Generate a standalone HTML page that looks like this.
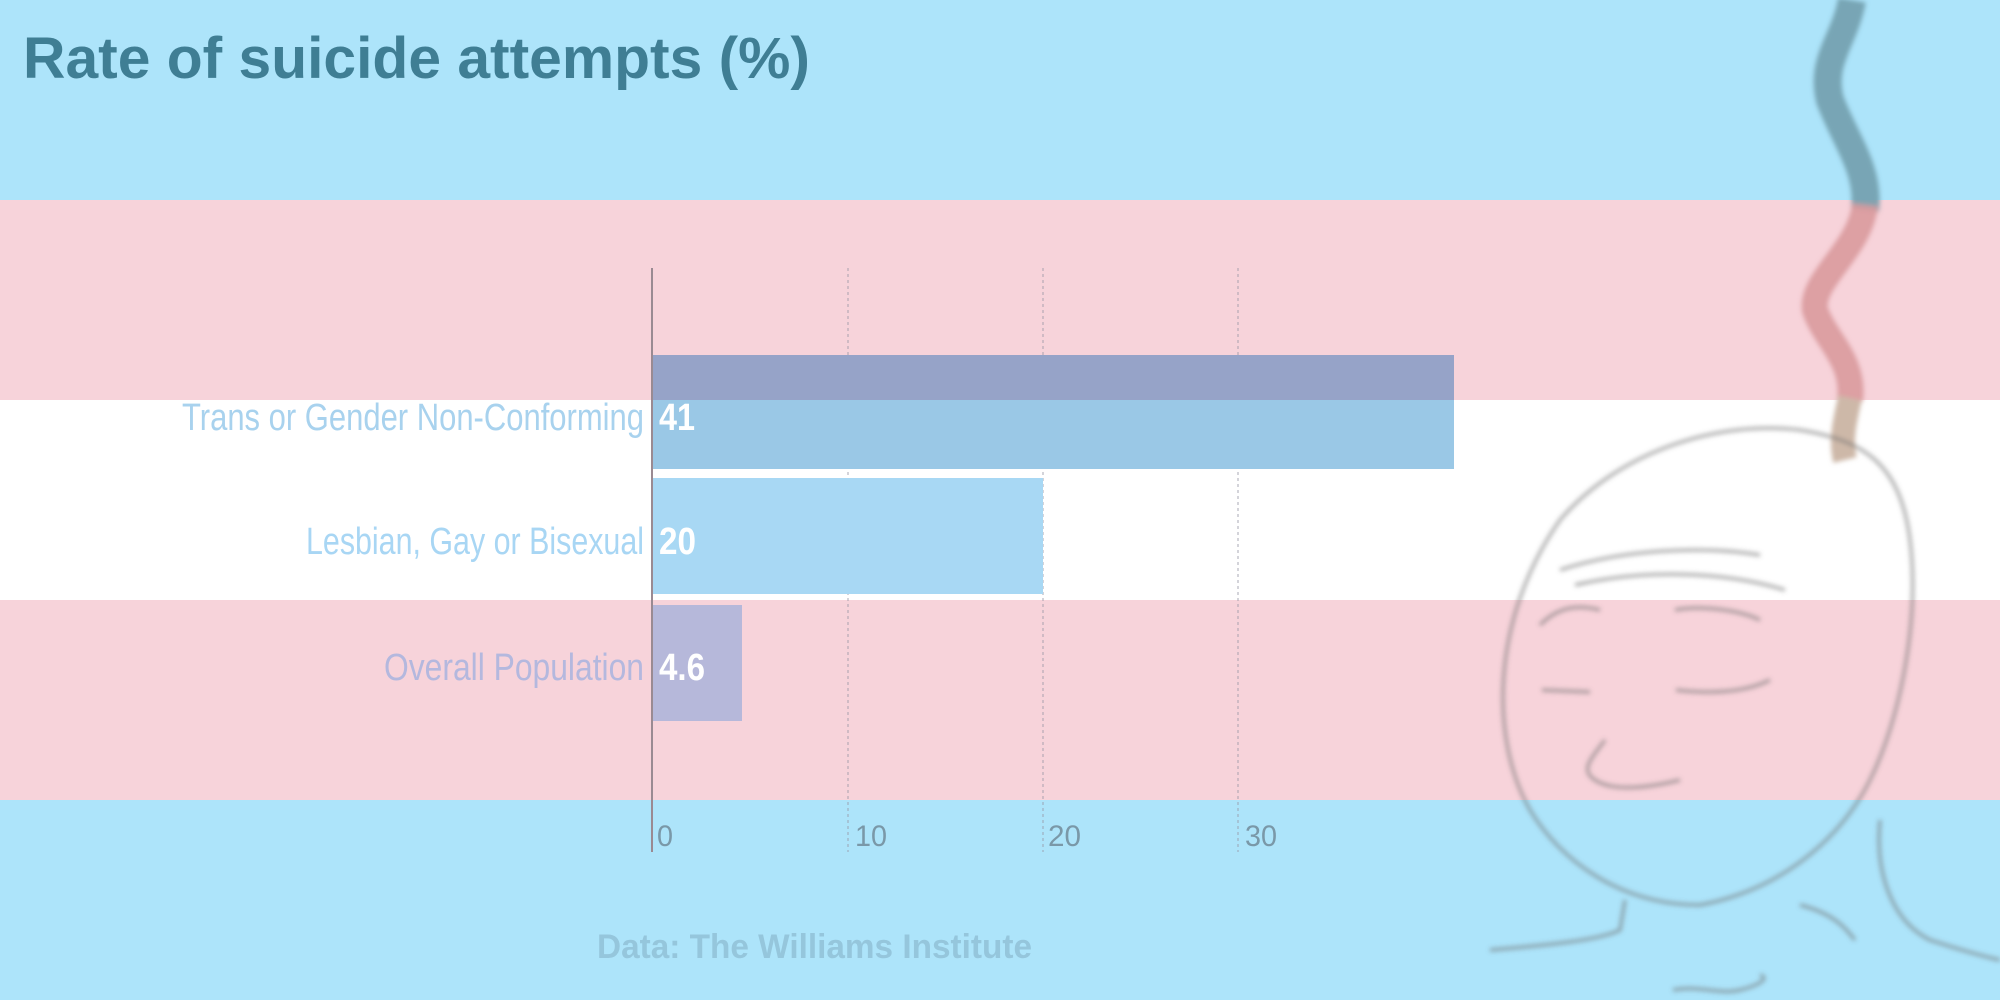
<!DOCTYPE html>
<html><head><meta charset="utf-8"><style>html,body{margin:0;padding:0;width:2000px;height:1000px;overflow:hidden}svg{display:block}</style></head>
<body>
<svg width="2000" height="1000" viewBox="0 0 2000 1000" xmlns="http://www.w3.org/2000/svg" font-family="'Liberation Sans Narrow','Liberation Sans',sans-serif">
<defs><filter id="bl"><feGaussianBlur stdDeviation="2.5"/></filter></defs>
<rect x="0" y="0" width="2000" height="200" fill="#ade4fa"/>
<rect x="0" y="200" width="2000" height="200" fill="#f7d3da"/>
<rect x="0" y="400" width="2000" height="200" fill="#ffffff"/>
<rect x="0" y="600" width="2000" height="200" fill="#f7d3da"/>
<rect x="0" y="800" width="2000" height="200" fill="#ade4fa"/>

<text x="23" y="78" font-size="58" font-weight="bold" fill="#3f7e94" textLength="787" lengthAdjust="spacingAndGlyphs">Rate of suicide attempts (%)</text>

<g stroke="#9a9aa8" stroke-width="1.2" stroke-dasharray="3,3" opacity="0.7">
<line x1="848" y1="268" x2="848" y2="852"/>
<line x1="1043" y1="268" x2="1043" y2="852"/>
<line x1="1238" y1="268" x2="1238" y2="852"/>
</g>

<rect x="652" y="355" width="802" height="45" fill="#96a3c8"/>
<rect x="652" y="400" width="802" height="69" fill="#9ac8e6"/>
<rect x="652" y="478" width="391" height="116" fill="#a8d8f4"/>
<rect x="652" y="605" width="90" height="116" fill="#b6b8da"/>
<line x1="652" y1="268" x2="652" y2="852" stroke="#9a8a92" stroke-width="2"/>

<g font-size="38">
<text x="182" y="430" fill="#a8d2ee" textLength="462" lengthAdjust="spacingAndGlyphs">Trans or Gender Non-Conforming</text>
<text x="306" y="554" fill="#a8d6f4" textLength="338" lengthAdjust="spacingAndGlyphs">Lesbian, Gay or Bisexual</text>
<text x="384" y="680" fill="#b4b8de" textLength="260" lengthAdjust="spacingAndGlyphs">Overall Population</text>
<text x="659" y="430" fill="#ffffff" font-weight="bold" textLength="36" lengthAdjust="spacingAndGlyphs">41</text>
<text x="659" y="554" fill="#ffffff" font-weight="bold" textLength="37" lengthAdjust="spacingAndGlyphs">20</text>
<text x="659" y="680" fill="#ffffff" font-weight="bold" textLength="46" lengthAdjust="spacingAndGlyphs">4.6</text>
</g>

<g font-size="30" fill="#7a98a8">
<text x="657" y="846" textLength="16" lengthAdjust="spacingAndGlyphs">0</text>
<text x="855" y="846" textLength="32" lengthAdjust="spacingAndGlyphs">10</text>
<text x="1048" y="846" textLength="33" lengthAdjust="spacingAndGlyphs">20</text>
<text x="1245" y="846" textLength="32" lengthAdjust="spacingAndGlyphs">30</text>
</g>

<text x="597" y="958" font-size="34" font-weight="bold" fill="#95c6dc" textLength="435" lengthAdjust="spacingAndGlyphs">Data: The Williams Institute</text>

<g filter="url(#bl)">
<path d="M1852,0 C1845,40 1820,60 1830,100 C1845,140 1870,170 1865,210" fill="none" stroke="#6f9aa8" stroke-width="28" opacity="0.85"/>
<path d="M1865,205 C1860,250 1810,280 1815,310 C1825,340 1855,360 1850,400" fill="none" stroke="#d99a9c" stroke-width="26" opacity="0.9"/>
<path d="M1850,398 C1845,420 1840,440 1845,460" fill="none" stroke="#cdb8a8" stroke-width="24"/>
<g fill="none" stroke="#707070" stroke-width="3.5" opacity="0.55">
<path d="M1530,810 C1490,740 1490,620 1560,520 C1620,450 1720,420 1800,430 C1860,440 1900,460 1910,540 C1920,620 1900,720 1870,780 C1840,840 1780,890 1700,905 C1620,905 1560,860 1530,810"/>
<path d="M1560,570 C1620,550 1700,545 1760,555"/>
<path d="M1575,585 C1640,570 1720,570 1785,590"/>
<path d="M1540,625 C1560,605 1580,605 1600,610 M1675,610 C1700,605 1740,610 1760,620"/>
<path d="M1542,690 L1590,692 M1676,690 C1720,695 1750,690 1770,680"/>
<path d="M1605,740 C1590,760 1580,770 1595,780 C1610,790 1640,790 1680,780"/>
<path d="M1490,950 C1550,945 1600,940 1620,930 L1625,900"/>
<path d="M1800,905 C1840,915 1850,935 1855,940 M1880,820 C1875,870 1890,920 1930,940 C1960,950 1990,958 2000,960"/>
<path d="M1673,990 C1700,985 1720,995 1740,990 C1760,985 1770,978 1760,975"/>
</g>
</g>
</svg>
</body></html>
